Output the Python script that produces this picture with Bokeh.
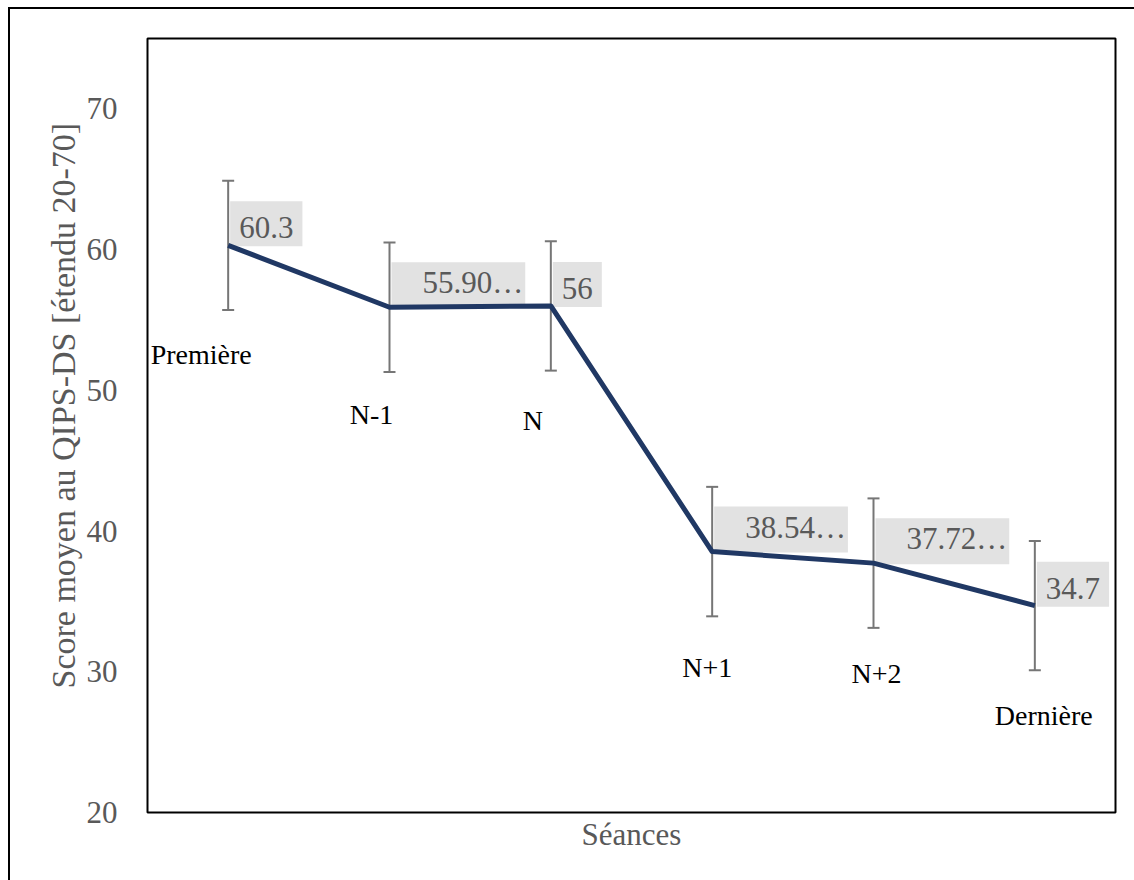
from bokeh.plotting import figure
from bokeh.models import ColumnDataSource, FactorRange, FixedTicker, Whisker, TeeHead, LabelSet, Title
from bokeh.core.properties import value
from bokeh.embed import file_html
from bokeh.resources import INLINE

# ---- data ----
categories = ["Première", "N-1", "N", "N+1", "N+2", "Dernière"]
means = [60.3, 55.9, 56.0, 38.54, 37.72, 34.7]
errors = [4.6, 4.6, 4.6, 4.6, 4.6, 4.6]
value_labels = ["60.3", "55.90…", "56", "38.54…", "37.72…", "34.7"]
y_ticks = [20, 30, 40, 50, 60, 70]

# ---- style ----
cat_dx = [-27, -18, -18, -5, 3, 9]
cat_dy = [-119, -117, -124, -125, -120, -119]
FONT = "Liberation Serif"
GRAY = "#595959"

src = ColumnDataSource(dict(
    x=categories, y=means,
    upper=[m + e for m, e in zip(means, errors)],
    lower=[m - e for m, e in zip(means, errors)],
    dx=cat_dx, dy=cat_dy,
))

short_idx = [i for i, t in enumerate(value_labels) if not t.endswith("…")]
long_idx = [i for i, t in enumerate(value_labels) if t.endswith("…")]
src_short = ColumnDataSource(dict(x=[categories[i] for i in short_idx],
                                  y=[means[i] for i in short_idx],
                                  t=[value_labels[i] for i in short_idx]))
src_long = ColumnDataSource(dict(x=[categories[i] for i in long_idx],
                                 y=[means[i] for i in long_idx],
                                 t=[value_labels[i] for i in long_idx]))

p = figure(width=1134, height=880, x_range=FactorRange(*categories, range_padding=0),
           y_range=(20, 75), output_backend="svg", toolbar_location=None,
           min_border_left=147, min_border_right=19, min_border_top=38, min_border_bottom=68,
           border_fill_color=None, background_fill_color="white")
p.styles = {
    "background-color": "white",
    "background-image": "linear-gradient(black, black), linear-gradient(black, black)",
    "background-size": "2px 100%, 100% 2px",
    "background-position": "8px 7px, 8px 7px",
    "background-repeat": "no-repeat",
}

p.outline_line_color = "black"
p.outline_line_width = 2
p.xgrid.visible = False
p.ygrid.visible = False

p.yaxis.ticker = FixedTicker(ticks=y_ticks)
p.yaxis.axis_line_color = None
p.yaxis.major_tick_line_color = None
p.yaxis.minor_tick_line_color = None
p.yaxis.major_label_standoff = 24
p.yaxis.major_label_text_font = FONT
p.yaxis.major_label_text_font_size = "31px"
p.yaxis.major_label_text_color = GRAY

p.xaxis.visible = False

p.add_layout(Title(text="Score moyen au QIPS-DS [étendu 20-70]", align="left", offset=124,
                   text_font=FONT, text_font_size="34px", text_font_style="normal",
                   text_color=GRAY, standoff=4), "left")
p.add_layout(Title(text="Séances", align="center",
                   text_font=FONT, text_font_size="31px", text_font_style="normal",
                   text_color=GRAY, standoff=4), "below")

p.add_layout(Whisker(source=src, base="x", upper="upper", lower="lower", level="underlay",
                     line_color="#767676", line_width=2,
                     upper_head=TeeHead(size=12, line_color="#767676", line_width=2),
                     lower_head=TeeHead(size=12, line_color="#767676", line_width=2)))

p.text("x", "y", text="t", source=src_short, x_offset=2, y_offset=1,
       text_align="left", text_baseline="bottom",
       text_font=value(FONT), text_font_size="31px", text_color=GRAY,
       background_fill_color="#e2e2e2", padding=(9, 9, 16, 8))
p.text("x", "y", text="t", source=src_long, x_offset=2, y_offset=1,
       text_align="left", text_baseline="bottom",
       text_font=value(FONT), text_font_size="31px", text_color=GRAY,
       background_fill_color="#e2e2e2", padding=(31, 2, 3, 8))

p.line("x", "y", source=src, line_color="#203864", line_width=5, line_join="round")

p.add_layout(LabelSet(x="x", y="y", text="x", source=src, x_offset="dx", y_offset="dy",
                      text_align="center", text_baseline="alphabetic",
                      text_font=value(FONT), text_font_size="28px", text_color="black"))

open("out.html", "w").write(file_html(p, INLINE))
